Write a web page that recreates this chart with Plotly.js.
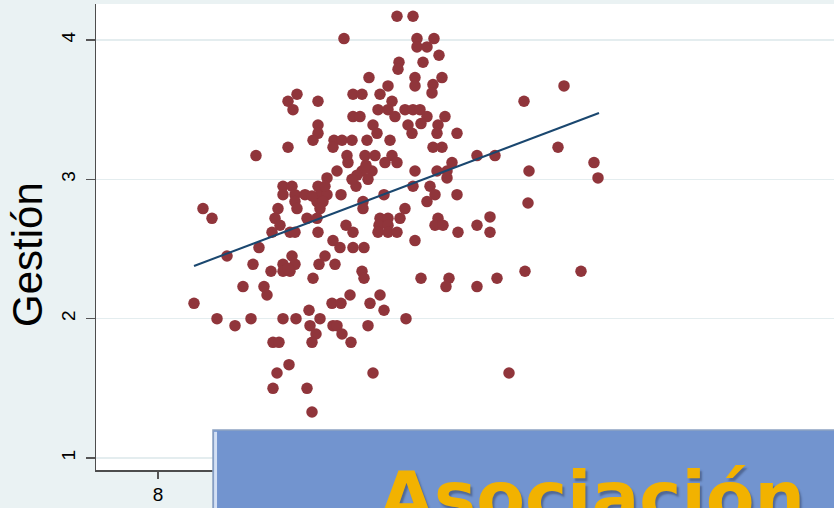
<!DOCTYPE html>
<html>
<head>
<meta charset="utf-8">
<script src="https://cdn.plot.ly/plotly-3.0.1.min.js"></script>
<style>
html,body{margin:0;padding:0;background:#EAF2F3;}
#chart{width:834px;height:508px;}
</style>
</head>
<body>
<div id="chart"></div>
<script>
// Scatter values (x: horizontal measure, y: Gestión)
const xValues = [
12.78,13.10,11.72,13.18,13.52,13.18,13.38,13.62,12.82,12.80,
13.30,12.22,13.14,13.14,13.68,12.60,13.50,13.48,10.78,11.90,
12.08,12.44,10.60,10.70,11.20,12.68,12.40,12.60,12.94,13.10,
13.24,12.74,11.90,12.04,13.38,13.74,11.20,11.20,12.30,12.38,
13.00,13.08,13.26,13.60,13.58,13.98,11.10,11.52,11.68,11.88,
12.18,12.64,13.50,13.68,11.50,10.60,9.96,11.78,12.14,12.34,
12.68,14.38,11.80,12.54,12.78,13.88,11.58,12.08,12.28,13.14,
13.58,13.78,11.38,11.98,13.78,11.96,10.50,10.68,11.20,13.10,
13.44,10.50,10.74,10.94,11.24,11.38,11.66,12.52,13.54,13.98,
10.74,11.18,11.30,12.10,13.38,8.90,9.08,10.40,10.78,11.24,
12.10,12.94,10.34,10.98,11.18,12.44,12.60,12.84,13.60,10.44,
11.76,12.42,12.60,13.54,13.70,14.38,10.28,10.64,10.74,11.20,
11.90,12.40,12.60,12.78,14.00,11.50,13.14,16.12,15.32,16.00,
14.74,15.42,16.72,16.80,15.40,14.64,14.64,11.34,11.08,12.16,
12.20,11.88,10.02,11.64,11.90,12.12,9.38,10.68,11.34,9.90,
10.50,10.74,11.22,11.54,10.26,10.50,10.64,12.08,12.12,11.10,
15.34,9.70,10.12,10.18,8.72,11.48,11.66,11.84,12.24,12.44,
12.52,11.02,13.26,13.82,13.76,14.38,14.78,9.18,9.54,9.86,
10.50,10.76,11.24,11.04,11.16,11.08,11.50,11.58,11.68,11.86,
12.20,12.96,10.30,10.42,10.62,10.38,12.30,15.02,10.30,10.98,
11.08,16.46,10.60
];
const yValues = [
4.17,4.17,4.01,4.01,4.01,3.95,3.95,3.89,3.84,3.79,
3.84,3.73,3.73,3.67,3.73,3.67,3.68,3.62,3.61,3.61,
3.61,3.61,3.56,3.50,3.56,3.56,3.50,3.50,3.50,3.50,
3.50,3.45,3.45,3.45,3.45,3.45,3.39,3.33,3.39,3.33,
3.39,3.33,3.40,3.39,3.33,3.33,3.28,3.28,3.28,3.28,
3.28,3.28,3.23,3.23,3.23,3.23,3.17,3.17,3.17,3.17,
3.17,3.17,3.12,3.12,3.12,3.12,3.06,3.06,3.06,3.06,
3.06,3.06,3.01,3.03,3.01,2.95,2.95,2.95,2.95,2.95,
2.95,2.89,2.89,2.89,2.89,2.89,2.89,2.89,2.89,2.89,
2.84,2.84,2.84,2.84,2.84,2.79,2.72,2.79,2.79,2.79,
2.79,2.79,2.72,2.72,2.72,2.72,2.72,2.72,2.72,2.67,
2.67,2.67,2.67,2.67,2.67,2.67,2.62,2.62,2.62,2.62,
2.62,2.62,2.62,2.62,2.62,2.56,2.56,3.67,3.56,3.23,
3.17,3.06,3.12,3.01,2.83,2.73,2.62,2.95,2.88,3.10,
3.00,3.00,2.51,2.51,2.51,2.51,2.45,2.45,2.45,2.39,
2.39,2.39,2.39,2.39,2.34,2.34,2.34,2.34,2.29,2.29,
2.34,2.23,2.23,2.17,2.11,2.11,2.11,2.17,2.11,2.17,
2.06,2.06,2.29,2.29,2.23,2.23,2.29,2.00,1.95,2.00,
2.00,2.00,2.00,1.95,1.89,1.83,1.95,1.95,1.89,1.83,
1.95,2.00,1.83,1.83,1.67,1.61,1.61,1.61,1.50,1.50,
1.33,2.34,2.36
];
// Fitted line end points
const fitX = [8.72, 16.82];
const fitY = [2.378, 3.476];
// Axis ticks and labels
const yTicks = [1, 2, 3, 4];
const xTicks = [8, 10, 12, 14, 16, 18, 20];
const yTitle = "Gestión";
const overlayText = "Asociación";

const traces = [
  {
    x: xValues, y: yValues, type: 'scatter', mode: 'markers',
    marker: {color: '#90353B', size: 11.5, line: {width: 0}},
    hoverinfo: 'skip', showlegend: false
  },
  {
    x: fitX, y: fitY, type: 'scatter', mode: 'lines',
    line: {color: '#1A476F', width: 2},
    hoverinfo: 'skip', showlegend: false
  }
];

const layout = {
  width: 834, height: 508,
  margin: {l: 96, r: 0, t: 4, b: 38, pad: 0},
  paper_bgcolor: '#EAF2F3',
  plot_bgcolor: '#FFFFFF',
  showlegend: false,
  font: {family: 'Liberation Sans, Arial, sans-serif', color: '#000000'},
  xaxis: {
    range: [6.76, 21.52],
    tickvals: xTicks,
    ticktext: xTicks.map(String),
    ticks: 'outside', ticklen: 7, tickwidth: 1.2, tickcolor: '#555555',
    ticklabelstandoff: 0,
    showgrid: false, zeroline: false,
    showline: true, linecolor: '#4D4D4D', linewidth: 1.5,
    tickfont: {size: 19, family: 'Liberation Sans, Arial, sans-serif', color: '#000000'},
    automargin: false
  },
  yaxis: {
    range: [0.914, 4.258],
    tickvals: yTicks,
    ticktext: yTicks.map(String),
    tickangle: -90,
    ticks: 'outside', ticklen: 9, tickwidth: 1.2, tickcolor: '#555555',
    ticklabelstandoff: 3,
    showgrid: true, gridcolor: '#E4EDEF', gridwidth: 1.5,
    zeroline: false,
    showline: true, linecolor: '#4D4D4D', linewidth: 1.5,
    tickfont: {size: 19, family: 'Liberation Sans, Arial, sans-serif', color: '#000000'},
    automargin: false
  },
  shapes: [
    {type: 'rect', xref: 'paper', yref: 'paper', layer: 'above',
     x0: 0.1585, x1: 1.05, y0: -0.2, y1: 0.0858,
     fillcolor: '#7294CF', line: {color: '#8DA2C2', width: 1.5}},
    {type: 'rect', xref: 'paper', yref: 'paper', layer: 'above',
     x0: 0.1600, x1: 0.1640, y0: -0.2, y1: 0.082,
     fillcolor: '#D4E0F4', line: {width: 0}}
  ],
  annotations: [
    {xref: 'paper', yref: 'paper', x: -0.0935, y: 0.4635,
     xanchor: 'center', yanchor: 'middle', showarrow: false, textangle: -90,
     text: yTitle,
     font: {size: 42, family: 'Liberation Sans, Arial, sans-serif', color: '#000000'}},
    {xref: 'paper', yref: 'paper', x: 0.672, y: 0.0345,
     xanchor: 'center', yanchor: 'top', showarrow: false,
     text: '<b>' + overlayText + '</b>',
     font: {size: 71, family: 'DejaVu Sans, sans-serif', color: '#F2B200',
            shadow: '2px 3px 2px rgba(40,50,80,0.45)'}}
  ]
};

Plotly.newPlot('chart', traces, layout, {staticPlot: true, displayModeBar: false});
</script>
</body>
</html>
